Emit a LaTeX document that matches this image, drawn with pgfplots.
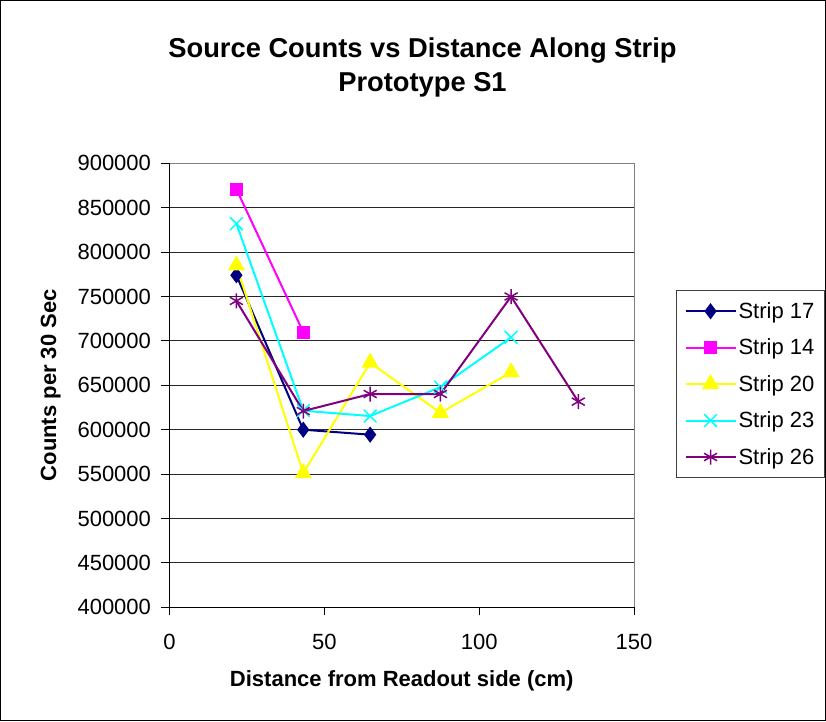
\documentclass[border=0pt]{standalone}
\usepackage{fontspec}
\setmainfont{Liberation Sans}
\usepackage{pgfplots}
\pgfplotsset{compat=1.18}
\definecolor{s17}{RGB}{0,0,128}
\definecolor{s14}{RGB}{255,0,255}
\definecolor{s20}{RGB}{255,255,0}
\definecolor{s23}{RGB}{0,255,255}
\definecolor{s26}{RGB}{128,0,128}
\begin{document}
\begin{tikzpicture}[x=1pt,y=1pt]
\useasboundingbox (0,0) rectangle (826,721);
\draw[black, line width=1pt] (0.5,0.5) rectangle (825.5,720.5);
\node[font=\fontsize{27.3}{34}\selectfont\bfseries, align=center] at (422.5,654) {Source Counts vs Distance Along Strip\\Prototype S1};
\begin{axis}[
  at={(169.5pt,113.7pt)}, anchor=south west,
  scale only axis, width=464.5pt, height=444pt,
  xmin=0, xmax=150, ymin=400000, ymax=900000,
  xtick={0,50,100,150},
  ytick={400000,450000,...,900000},
  scaled y ticks=false,
  /pgf/number format/assume math mode=true,
  yticklabel style={/pgf/number format/fixed, /pgf/number format/1000 sep={}, xshift=-7pt},
  xticklabel style={yshift=-15pt},
  ticklabel style={font=\fontsize{22}{26}\selectfont},
  axis x line*=bottom, axis y line*=left,
  axis line style={-, black, line width=1pt},
  xtick pos=bottom, ytick pos=left,
  xtick align=outside, ytick align=outside, major tick length=8pt,
  tick style={black, line width=1pt},
  ymajorgrids, grid style={black!85, line width=0.9pt},
  xlabel={\bfseries Distance from Readout side (cm)},
  ylabel={\bfseries Counts per 30 Sec},
  xlabel style={yshift=-14pt},
  ylabel style={yshift=10pt},
  label style={font=\fontsize{22}{26}\selectfont},
  legend style={at={(1.0905,0.7146)}, anchor=north west, draw=black!75, line width=1pt,
    font=\fontsize{22}{26}\selectfont, inner xsep=8pt, inner ysep=10pt, row sep=15pt},
  legend cell align=left,
  legend image code/.code={\draw[mark repeat=2,mark phase=2] plot coordinates {(0pt,0pt) (25pt,0pt) (50pt,0pt)};},
  every axis plot/.append style={line width=2pt},
  clip=false,
]
\draw[gray, line width=1pt] (rel axis cs:0,1) -- (rel axis cs:1,1) -- (rel axis cs:1,0);
\addplot[color=s17, mark=diamond*, mark size=6.5pt, mark options={solid}] coordinates {(21.6,774000) (43.2,600000) (64.8,594400)};
\addlegendentry{Strip 17}
\addplot[color=s14, mark=square*, mark size=5.5pt] coordinates {(21.6,871000) (43.2,709800)};
\addlegendentry{Strip 14}
\addplot[color=s20, mark=triangle*, mark size=8pt] coordinates {(21.6,785000) (43.2,551000) (64.8,675500) (87.5,619000) (110.3,664700)};
\addlegendentry{Strip 20}
\addplot[color=s23, mark=x, mark size=9pt, mark options={line width=1.5pt}] coordinates {(21.6,832000) (43.2,621400) (64.8,615400) (87.5,648000) (110.3,704000)};
\addlegendentry{Strip 23}
\addplot[color=s26, mark=asterisk, mark size=7.5pt, mark options={line width=1.5pt}] coordinates {(21.6,745000) (43.2,621000) (64.8,640200) (87.5,640200) (110.3,750000) (132,631600)};
\addlegendentry{Strip 26}
\end{axis}
\end{tikzpicture}
\end{document}
